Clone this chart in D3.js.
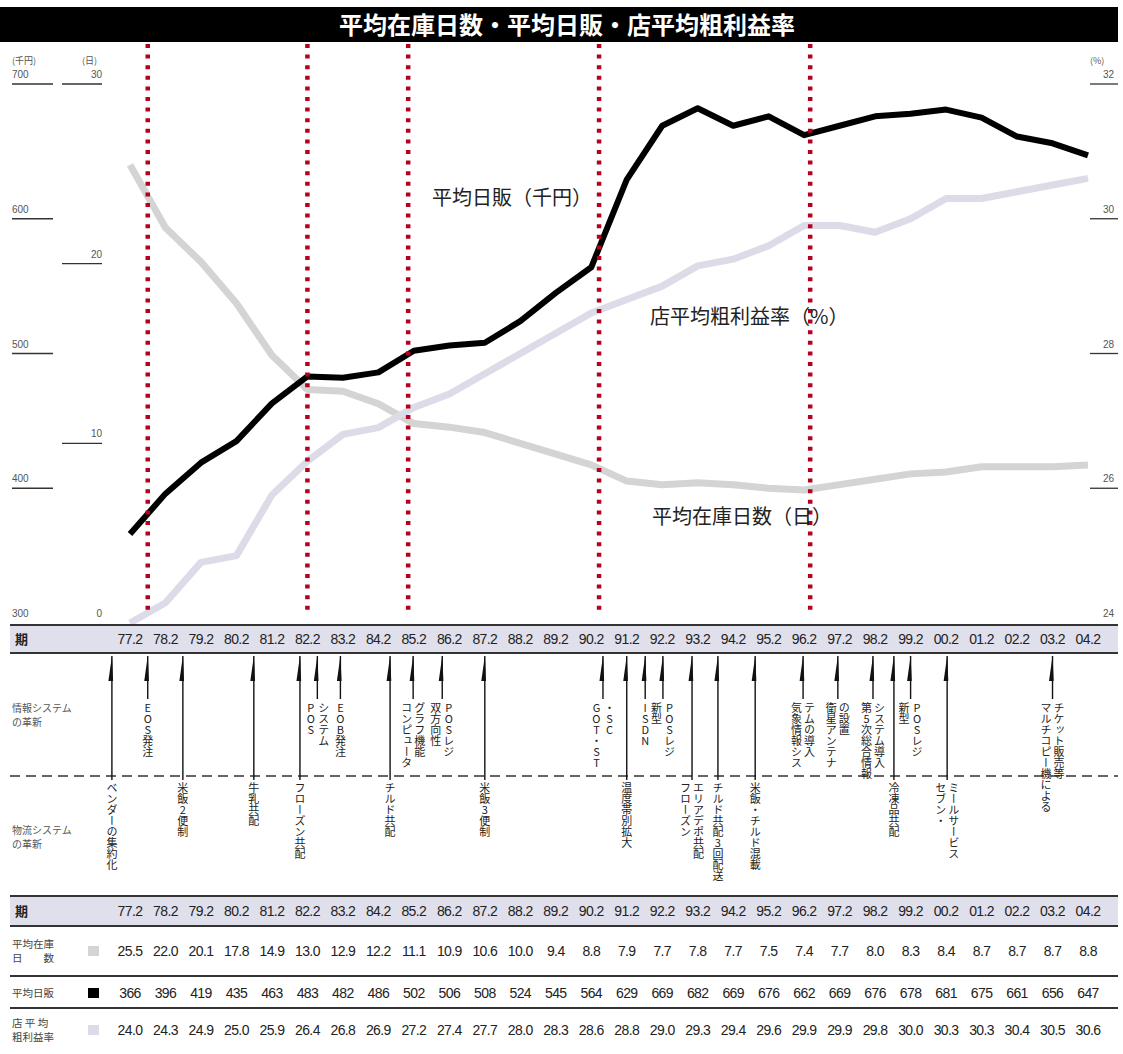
<!DOCTYPE html>
<html lang="ja">
<head>
<meta charset="utf-8">
<script src="https://cdn.jsdelivr.net/npm/d3@7"></script>
<style>
  body { margin: 0; background: #fff; }
  svg { display: block; font-family: "Liberation Sans", Arial, "Noto Sans CJK JP", sans-serif; }
  .jp { font-family: "Noto Sans CJK JP", sans-serif; }
</style>
</head>
<body>
<svg id="chart"></svg>
<script>
(() => {

  // data
  const periods = ["77.2","78.2","79.2","80.2","81.2","82.2","83.2","84.2","85.2","86.2","87.2","88.2","89.2","90.2",
                   "91.2","92.2","93.2","94.2","95.2","96.2","97.2","98.2","99.2","00.2","01.2","02.2","03.2","04.2"];
  const stockDays = [25.5,22.0,20.1,17.8,14.9,13.0,12.9,12.2,11.1,10.9,10.6,10.0,9.4,8.8,
                     7.9,7.7,7.8,7.7,7.5,7.4,7.7,8.0,8.3,8.4,8.7,8.7,8.7,8.8];
  const dailySales = [366,396,419,435,463,483,482,486,502,506,508,524,545,564,
                      629,669,682,669,676,662,669,676,678,681,675,661,656,647];
  const grossMargin = [24.0,24.3,24.9,25.0,25.9,26.4,26.8,26.9,27.2,27.4,27.7,28.0,28.3,28.6,
                       28.8,29.0,29.3,29.4,29.6,29.9,29.9,29.8,30.0,30.3,30.3,30.4,30.5,30.6];

  const salesTicks  = [300,400,500,600,700];
  const daysTicks   = [0,10,20,30];
  const marginTicks = [24,26,28,30,32];

  // era boundaries, in period index units
  const eraMarks = [0.5, 5, 7.84, 13.22, 19.17];

  // events: position in period index units, text columns left to right
  const infoEvents = [
    {at: 0.5,   cols: ["EOS発注"]},
    {at: 5.28,  cols: ["POS", "システム"]},
    {at: 5.93,  cols: ["EOB発注"]},
    {at: 7.98,  cols: ["コンピュータ", "グラフ機能"]},
    {at: 8.8,   cols: ["双方向性", "POSレジ"]},
    {at: 13.33, cols: ["GOT・ST", "・SC"]},
    {at: 14.52, cols: ["ISDN"]},
    {at: 15.02, cols: ["新型", "POSレジ"]},
    {at: 18.97, cols: ["気象情報シス", "テムの導入"]},
    {at: 19.95, cols: ["衛星アンテナ", "の設置"]},
    {at: 20.94, cols: ["第5次総合情報", "システム導入"]},
    {at: 22.0,  cols: ["新型", "POSレジ"]},
    {at: 26.0,  cols: ["マルチコピー機による", "チケット販売等"]}
  ];
  const logiEvents = [
    {at: -0.51, cols: ["ベンダーの集約化"]},
    {at: 1.49,  cols: ["米飯2便制"]},
    {at: 3.49,  cols: ["牛乳共配"]},
    {at: 4.79,  cols: ["フローズン共配"]},
    {at: 7.33,  cols: ["チルド共配"]},
    {at: 10.0,  cols: ["米飯3便制"]},
    {at: 14.0,  cols: ["温度帯別拡大"]},
    {at: 15.84, cols: ["フローズン", "エリアデポ共配"]},
    {at: 16.57, cols: ["チルド共配3回配送"]},
    {at: 17.62, cols: ["米飯・チルド混載"]},
    {at: 21.53, cols: ["冷凍品共配"]},
    {at: 23.03, cols: ["セブン・", "ミールサービス"]}
  ];

  const W = 1123, H = 1054;
  const svg = d3.select('#chart').attr('width', W).attr('height', H);

  const x = d3.scaleLinear().domain([0, periods.length - 1]).range([130, 1088]);
  const ySales  = d3.scaleLinear().domain([300, 700]).range([623, 84]);
  const yDays   = d3.scaleLinear().domain([0, 30]).range([623, 84]);
  const yMargin = d3.scaleLinear().domain([24, 32]).range([623, 84]);

  const colStock = '#d4d4d4', colMargin = '#dcdce9', colSales = '#000';

  // title
  svg.append('rect').attr('x', 0).attr('y', 7).attr('width', 1118).attr('height', 35).attr('fill', '#000');
  svg.append('text').attr('class', 'jp').attr('x', 567).attr('y', 34)
    .attr('text-anchor', 'middle').attr('fill', '#fff')
    .attr('font-size', 24).attr('font-weight', 'bold')
    .text('平均在庫日数・平均日販・店平均粗利益率');

  // axes (hand styled ticks)
  const axisG = svg.append('g').attr('font-size', 10).attr('fill', '#555');
  const unit = (tx, ty, t, anchor) => axisG.append('text').attr('class', 'jp')
    .attr('x', tx).attr('y', ty).attr('font-size', 9).attr('text-anchor', anchor || 'start').text(t);
  unit(12, 64, '(千円)');
  unit(82, 64, '(日)');
  unit(1090, 64, '(%)');

  salesTicks.forEach(v => {
    axisG.append('text').attr('x', 12).attr('y', ySales(v) - 6).text(v);
    if (v > 300) axisG.append('line').attr('x1', 12).attr('x2', 53)
      .attr('y1', ySales(v)).attr('y2', ySales(v)).attr('stroke', '#333').attr('stroke-width', 1.3);
  });
  daysTicks.forEach(v => {
    axisG.append('text').attr('x', 102).attr('y', yDays(v) - 6).attr('text-anchor', 'end').text(v);
    if (v > 0) axisG.append('line').attr('x1', 62).attr('x2', 102)
      .attr('y1', yDays(v)).attr('y2', yDays(v)).attr('stroke', '#333').attr('stroke-width', 1.3);
  });
  marginTicks.forEach(v => {
    axisG.append('text').attr('x', 1114).attr('y', yMargin(v) - 6).attr('text-anchor', 'end').text(v);
    if (v > 24) axisG.append('line').attr('x1', 1090).attr('x2', 1118)
      .attr('y1', yMargin(v)).attr('y2', yMargin(v)).attr('stroke', '#333').attr('stroke-width', 1.3);
  });

  // lines
  const mk = (arr, y) => d3.line().x((d, i) => x(i)).y(d => y(d))(arr);
  const lines = svg.append('g').attr('fill', 'none').attr('stroke-linejoin', 'round');
  lines.append('path').attr('d', mk(stockDays, yDays)).attr('stroke', colStock).attr('stroke-width', 7);
  lines.append('path').attr('d', mk(grossMargin, yMargin)).attr('stroke', colMargin).attr('stroke-width', 7);
  lines.append('path').attr('d', mk(dailySales, ySales)).attr('stroke', colSales).attr('stroke-width', 6);

  // era dotted lines
  svg.append('g').selectAll('line').data(eraMarks).enter().append('line')
    .attr('x1', d => x(d)).attr('x2', d => x(d)).attr('y1', 44).attr('y2', 612)
    .attr('stroke', '#b5001e').attr('stroke-width', 4.5)
    .attr('stroke-dasharray', '4 6.6');

  // series labels
  const lab = svg.append('g').attr('class', 'jp').attr('font-size', 20).attr('fill', '#222');
  lab.append('text').attr('x', 432).attr('y', 205).text('平均日販（千円）');
  lab.append('text').attr('x', 650).attr('y', 324).text('店平均粗利益率（%）');
  lab.append('text').attr('x', 652).attr('y', 524).text('平均在庫日数（日）');

  // period bands
  const band = (y0, y1) => {
    svg.append('rect').attr('x', 10).attr('y', y0).attr('width', 1108).attr('height', y1 - y0).attr('fill', '#e0e0ec');
    [y0, y1].forEach(yy => svg.append('line').attr('x1', 10).attr('x2', 1118).attr('y1', yy).attr('y2', yy)
      .attr('stroke', '#333').attr('stroke-width', 2));
    svg.append('text').attr('class', 'jp').attr('x', 15).attr('y', (y0 + y1) / 2 + 5)
      .attr('font-size', 13).attr('font-weight', 'bold').attr('fill', '#222').text('期');
    svg.append('g').selectAll('text').data(periods).enter().append('text')
      .attr('x', (d, i) => x(i)).attr('y', (y0 + y1) / 2 + 5)
      .attr('text-anchor', 'middle').attr('font-size', 14).attr('fill', '#222')
      .attr('letter-spacing', -0.6).text(d => d);
  };
  band(625, 653);
  band(896, 926);

  // event section
  const ev = svg.append('g');
  ev.append('line').attr('x1', 10).attr('x2', 1118).attr('y1', 776).attr('y2', 776)
    .attr('stroke', '#333').attr('stroke-width', 1.5).attr('stroke-dasharray', '10 6');
  const sideLab = (ty, a, b) => {
    const t = ev.append('text').attr('class', 'jp').attr('font-size', 10).attr('fill', '#555');
    t.append('tspan').attr('x', 12).attr('y', ty).text(a);
    t.append('tspan').attr('x', 12).attr('y', ty + 14).text(b);
  };
  sideLab(712, '情報システム', 'の革新');
  sideLab(834, '物流システム', 'の革新');

  const drawEvents = (list, lineEnd, textTop) => {
    const g = ev.append('g').selectAll('g').data(list).enter().append('g');
    g.append('line')
      .attr('x1', d => x(d.at)).attr('x2', d => x(d.at))
      .attr('y1', 656).attr('y2', lineEnd)
      .attr('stroke', '#111').attr('stroke-width', 1.4);
    g.append('path')
      .attr('d', d => { const cx = x(d.at); return `M${cx},656 L${cx - 3.5},681 L${cx + 1.2},681 Z`; })
      .attr('fill', '#111');
    g.each(function (d) {
      const n = d.cols.length;
      d.cols.forEach((c, k) => {
        d3.select(this).append('text').attr('class', 'jp')
          .attr('x', x(d.at) + (k - (n - 1) / 2) * 13)
          .attr('y', textTop)
          .attr('writing-mode', 'vertical-rl')
          .style('text-orientation', 'upright')
          .attr('font-size', 11).attr('fill', '#222')
          .text(c);
      });
    });
  };
  drawEvents(infoEvents, 699, 702);
  drawEvents(logiEvents, 780, 782);

  // data table
  const rows = [
    {labels: ['平均在庫', '日　　数'], values: stockDays.map(v => v.toFixed(1)), color: colStock, mid: 951},
    {labels: ['平均日販'], values: dailySales.map(String), color: colSales, mid: 993},
    {labels: ['店 平 均', '粗利益率'], values: grossMargin.map(v => v.toFixed(1)), color: colMargin, mid: 1030}
  ];
  [976, 1008].forEach(yy => svg.append('line').attr('x1', 10).attr('x2', 1118).attr('y1', yy).attr('y2', yy)
    .attr('stroke', '#333').attr('stroke-width', 2));
  rows.forEach(r => {
    r.labels.forEach((l, k) => svg.append('text').attr('class', 'jp')
      .attr('font-size', 10.5).attr('fill', '#444').attr('x', 12)
      .attr('y', r.mid + 4 + (k - (r.labels.length - 1) / 2) * 14).text(l));
    svg.append('rect').attr('x', 88).attr('y', r.mid - 5).attr('width', 11).attr('height', 10).attr('fill', r.color);
    svg.append('g').selectAll('text').data(r.values).enter().append('text')
      .attr('x', (d, i) => x(i)).attr('y', r.mid + 5)
      .attr('text-anchor', 'middle').attr('font-size', 14).attr('fill', '#222')
      .attr('letter-spacing', -0.6).text(d => d);
  });

})();
</script>
</body>
</html>
